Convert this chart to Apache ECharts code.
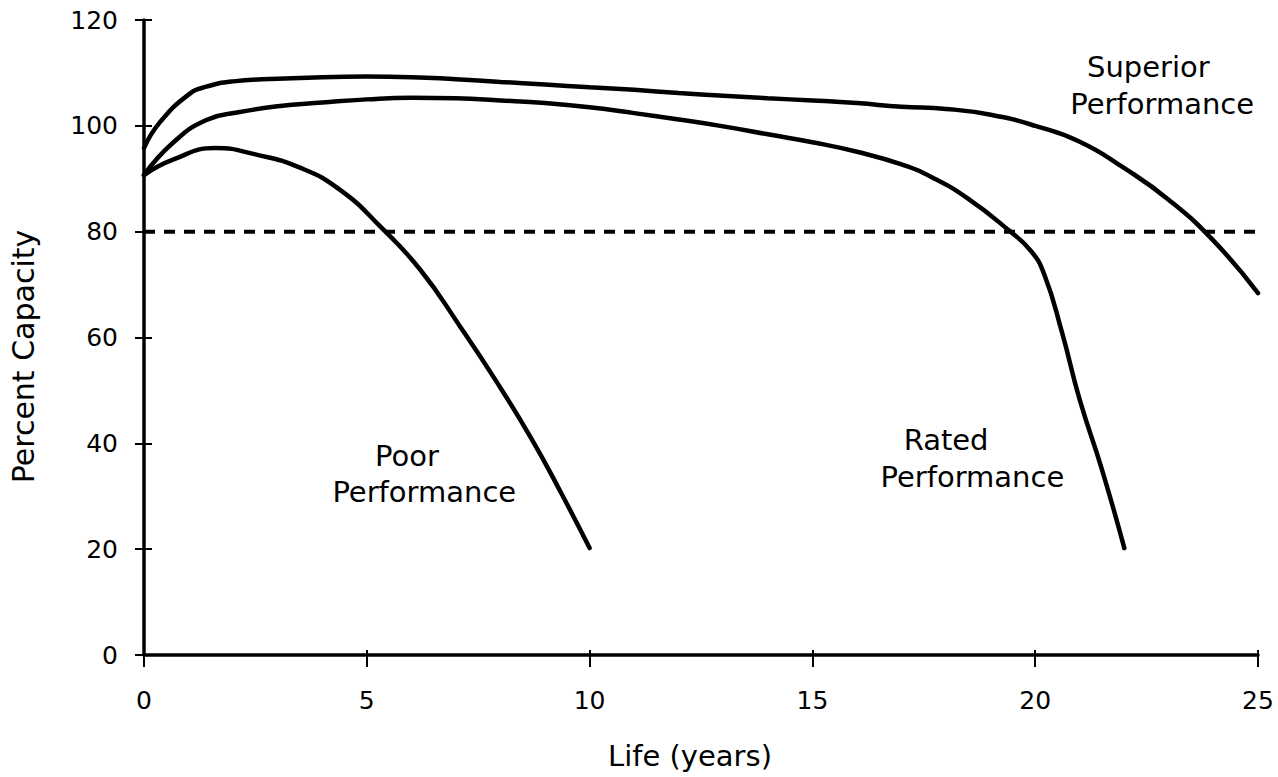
<!DOCTYPE html>
<html>
<head>
<meta charset="utf-8">
<title>Percent Capacity vs Life</title>
<script src="https://cdn.jsdelivr.net/npm/echarts@6/dist/echarts.min.js"></script>
<style>
  html, body { margin: 0; padding: 0; background: #fff; }
  #chart { width: 1278px; height: 777px; }
</style>
</head>
<body>
<div id="chart"></div>
<script>
// values: life in years, capacity in percent
const superiorYears = [0, 0.35, 1, 1.4, 2, 3, 4, 5, 6, 7, 8, 9, 10, 11, 12, 13, 14, 15, 16, 17, 18, 19, 20, 21, 22, 23, 24, 25];
const superiorCapacity = [95.8, 100.6, 105.9, 107.4, 108.4, 108.9, 109.2, 109.3, 109.2, 108.8, 108.3, 107.8, 107.3, 106.8, 106.2, 105.7, 105.2, 104.8, 104.3, 103.6, 103.2, 102.1, 100.0, 97.0, 92.0, 86.0, 78.3, 68.4];

const ratedYears = [0, 0.65, 1.4, 2.15, 3, 4, 5, 6, 7, 8, 9, 10, 11, 12, 13, 14, 15, 16, 17, 17.7, 18.5, 19.4, 19.9, 20.2, 20.6, 21, 21.5, 22];
const ratedCapacity = [90.7, 96.8, 101.1, 102.6, 103.7, 104.4, 105.0, 105.3, 105.2, 104.8, 104.3, 103.5, 102.4, 101.2, 99.9, 98.4, 96.9, 95.1, 92.7, 90.2, 86.2, 80.3, 76.4, 72.0, 61.0, 48.2, 35.0, 20.2];

const poorYears = [0, 0.65, 1.6, 2.5, 3.5, 4.4, 5.3, 6.2, 7.1, 7.9, 8.7, 9.35, 10];
const poorCapacity = [90.7, 93.6, 95.8, 94.6, 92.1, 87.9, 81.0, 72.8, 62.0, 51.8, 40.8, 30.8, 20.2];

// end of life threshold
const thresholdYears = [0, 25];
const thresholdCapacity = [80, 80];

// curve labels, one entry per line of text
const labelText = ['Superior', 'Performance', 'Rated', 'Performance', 'Poor', 'Performance'];
const labelYears = [22.54, 22.85, 18.0, 18.59, 5.9, 6.29];
const labelCapacity = [111.2, 104.2, 40.6, 33.6, 37.6, 30.8];

const zip = (xs, ys) => xs.map((x, i) => [x, ys[i]]);

const font = 'DejaVu Sans';
const ink = '#000';

const chart = echarts.init(document.getElementById('chart'), null, { renderer: 'svg' });

const curve = (name, xs, ys) => ({
  name: name,
  type: 'line',
  data: zip(xs, ys),
  symbol: 'none',
  smooth: 0.5,
  silent: true,
  lineStyle: { color: '#000', width: 4.5, cap: 'round' }
});

const option = {
  animation: false,
  backgroundColor: '#fff',
  textStyle: { fontFamily: font, color: ink },
  grid: { left: 144, right: 20, top: 20, bottom: 122 },
  xAxis: [
    {
      type: 'value', min: 0, max: 25, interval: 5, position: 'bottom',
      name: 'Life (years)', nameLocation: 'middle', nameGap: 86,
      nameTextStyle: { fontSize: 29, fontFamily: font, color: ink, padding: [0, 22, 0, 0] },
      axisLine: { onZero: false, lineStyle: { color: '#000', width: 3.5 } },
      axisTick: { length: 12, lineStyle: { color: '#000', width: 2 } },
      axisLabel: { fontSize: 25, margin: 33, color: ink, fontFamily: font },
      splitLine: { show: false }
    },
    {
      // inner half of the crossing ticks
      type: 'value', min: 0, max: 25, interval: 5, position: 'bottom',
      axisLine: { show: false },
      axisTick: { inside: true, length: 5, lineStyle: { color: '#000', width: 2 } },
      axisLabel: { show: false },
      splitLine: { show: false }
    }
  ],
  yAxis: [
    {
      type: 'value', min: 0, max: 120, interval: 20, position: 'left',
      name: 'Percent Capacity', nameLocation: 'middle', nameGap: 106, nameRotate: 90,
      nameTextStyle: { fontSize: 30, fontFamily: font, color: ink, padding: [0, 38, 0, 0] },
      axisLine: { onZero: false, lineStyle: { color: '#000', width: 3.5 } },
      axisTick: { length: 9, lineStyle: { color: '#000', width: 2 } },
      axisLabel: { fontSize: 25, margin: 26, color: ink, fontFamily: font },
      splitLine: { show: false }
    },
    {
      type: 'value', min: 0, max: 120, interval: 20, position: 'left',
      axisLine: { show: false },
      axisTick: { inside: true, length: 8, lineStyle: { color: '#000', width: 2 } },
      axisLabel: { show: false },
      splitLine: { show: false }
    }
  ],
  series: [
    curve('Superior Performance', superiorYears, superiorCapacity),
    curve('Rated Performance', ratedYears, ratedCapacity),
    curve('Poor Performance', poorYears, poorCapacity),
    {
      name: '80% capacity',
      type: 'line',
      data: zip(thresholdYears, thresholdCapacity),
      symbol: 'none',
      silent: true,
      lineStyle: { color: '#000', width: 4, type: [11, 9] }
    },
    {
      name: 'labels',
      type: 'scatter',
      symbolSize: 0,
      silent: true,
      itemStyle: { opacity: 1 },
      data: labelText.map((t, i) => ({ name: t, value: [labelYears[i], labelCapacity[i]] })),
      label: {
        show: true, position: 'inside', formatter: '{b}',
        fontSize: 29, fontFamily: font, color: ink, opacity: 1, textBorderWidth: 0
      }
    }
  ]
};

chart.setOption(option);
</script>
</body>
</html>
